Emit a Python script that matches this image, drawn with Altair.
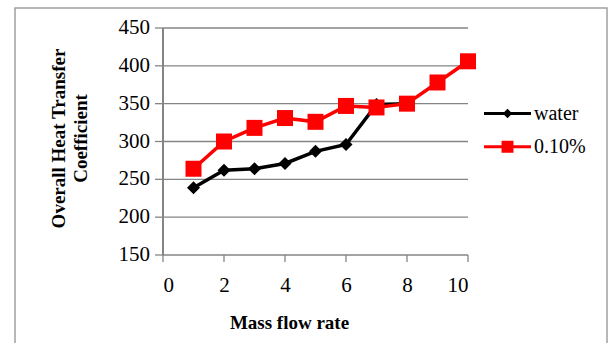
import altair as alt
import pandas as pd

water_x = [1, 2, 3, 4, 5, 6, 7, 8]
water_y = [239, 262, 264, 271, 287, 296, 349, 350]
nano_x = [1, 2, 3, 4, 5, 6, 7, 8, 9, 10]
nano_y = [264, 300, 318, 331, 326, 347, 345, 350, 378, 406]
series = ["water", "0.10%"]
colors = ["#000000", "#ff0000"]
shapes = ["diamond", "square"]
x_ticks = [0, 2, 4, 6, 8, 10]
y_ticks = [150, 200, 250, 300, 350, 400, 450]
legend_shapes = [
    "M-2,0H2M0,-0.22L0.22,0L0,0.22L-0.22,0Z",
    "M-2,0H2M-0.38,-0.51V0.51M-0.19,-0.51V0.51M0,-0.51V0.51M0.19,-0.51V0.51M0.38,-0.51V0.51",
]

rows = []
for x, y in zip(water_x, water_y):
    rows.append({"flow": x, "U": y, "series": series[0]})
for x, y in zip(nano_x, nano_y):
    rows.append({"flow": x, "U": y, "series": series[1]})
df = pd.DataFrame(rows)
ydf = pd.DataFrame({"U": y_ticks})
xdf = pd.DataFrame({"flow": x_ticks})

FONT = "Liberation Serif"
GRAY = "#858585"
W, H = 305, 227
L, T = 163, 28

color_scale = alt.Scale(domain=series, range=colors)
x_scale = alt.Scale(domain=[0, 10], nice=False)
y_scale = alt.Scale(domain=[150, 450], nice=False, zero=False)


def make_legend(i):
    return alt.Legend(
        title=None,
        orient="none",
        legendX=331,
        legendY=72 + 33.3 * i,
        padding=0,
        symbolSize=552,
        symbolStrokeWidth=3,
        symbolStrokeColor=colors[i],
        symbolOpacity=1,
        labelOffset=13,
        labelFont=FONT,
        labelFontSize=20,
        labelColor="#000000",
        labelBaseline="middle",
    )


x_enc = alt.X(
    "flow:Q",
    scale=x_scale,
    axis=alt.Axis(
        values=x_ticks,
        grid=False,
        domain=False,
        ticks=False,
        title="Mass flow rate",
        titleX=126,
        titleY=67,
        labelPadding=19,
    ),
)
y_enc = alt.Y(
    "U:Q",
    scale=y_scale,
    axis=alt.Axis(
        values=y_ticks,
        grid=False,
        domain=False,
        ticks=False,
        labels=False,
        title=["Overall Heat Transfer", "Coefficient"],
        titleAngle=270,
        titleX=-105,
        titleY=110,
        titleLineHeight=22,
    ),
)

grid = alt.Chart(ydf).mark_rule(color=GRAY, strokeWidth=1.3).encode(
    y=alt.Y("U:Q", scale=y_scale), x=alt.value(0), x2=alt.value(W)
)
yticks = alt.Chart(ydf).mark_rule(color=GRAY, strokeWidth=1.3).encode(
    y=alt.Y("U:Q", scale=y_scale), x=alt.value(-8), x2=alt.value(0)
)
ylabels = alt.Chart(ydf).mark_text(
    align="right", baseline="middle", font=FONT, fontSize=21, color="#000000", dx=-13
).encode(
    y=alt.Y("U:Q", scale=y_scale), x=alt.value(0), text=alt.Text("U:Q")
)
ydomain = alt.Chart(ydf).mark_rule(color=GRAY, strokeWidth=1.3).encode(
    x=alt.value(0), y=alt.value(0), y2=alt.value(H)
)
xticks = alt.Chart(xdf).mark_rule(color=GRAY, strokeWidth=1.3).encode(
    x=alt.X("flow:Q", scale=x_scale), y=alt.value(H), y2=alt.value(H + 7)
)

frame = alt.Chart(pd.DataFrame({"k": [0]})).mark_rect(
    fill="#ffffff", fillOpacity=0, stroke="#a0a0a0", strokeWidth=1.5
).encode(
    x=alt.value(15 - L),
    x2=alt.value(607 - L),
    y=alt.value(8 - T),
    y2=alt.value(400),
)

lines = alt.Chart(df).mark_line(strokeWidth=3.5).encode(
    x=x_enc,
    y=y_enc,
    color=alt.Color("series:N", scale=color_scale, legend=None),
    detail="series:N",
)

points = alt.Chart(df).mark_point(filled=True, opacity=1).encode(
    x="flow:Q",
    y="U:Q",
    color=alt.Color("series:N", scale=color_scale, legend=None),
    shape=alt.Shape("series:N", scale=alt.Scale(domain=series, range=shapes), legend=None),
    size=alt.Size("series:N", scale=alt.Scale(domain=series, range=[169, 256]), legend=None),
)

legend_layers = []
for i, name in enumerate(series):
    legend_layers.append(
        alt.Chart(df).transform_filter("false").mark_point(
            filled=False, opacity=1, strokeWidth=3, color=colors[i]
        ).encode(
            shape=alt.Shape(
                "series:N",
                scale=alt.Scale(domain=[name], range=[legend_shapes[i]]),
                legend=make_legend(i),
            ),
        )
    )

chart = alt.layer(
    frame, grid, yticks, ydomain, xticks, ylabels, lines, points, *legend_layers
).resolve_scale(
    shape="independent", size="independent"
).resolve_legend(
    shape="independent"
).properties(
    width=W,
    height=H,
    autosize=alt.AutoSizeParams(type="none"),
    padding={"left": L, "top": T, "right": 609 - L - W, "bottom": 343 - T - H},
    background="#ffffff",
).configure_view(
    stroke=None
).configure_axis(
    titleFont=FONT,
    titleFontSize=19,
    titleFontWeight="bold",
    titleColor="#000000",
    titleBaseline="middle",
    titleAlign="center",
    labelFont=FONT,
    labelFontSize=21,
    labelColor="#000000",
    labelOverlap=False,
)

chart.save("out.html", embed_options={"renderer": "svg", "actions": False})
